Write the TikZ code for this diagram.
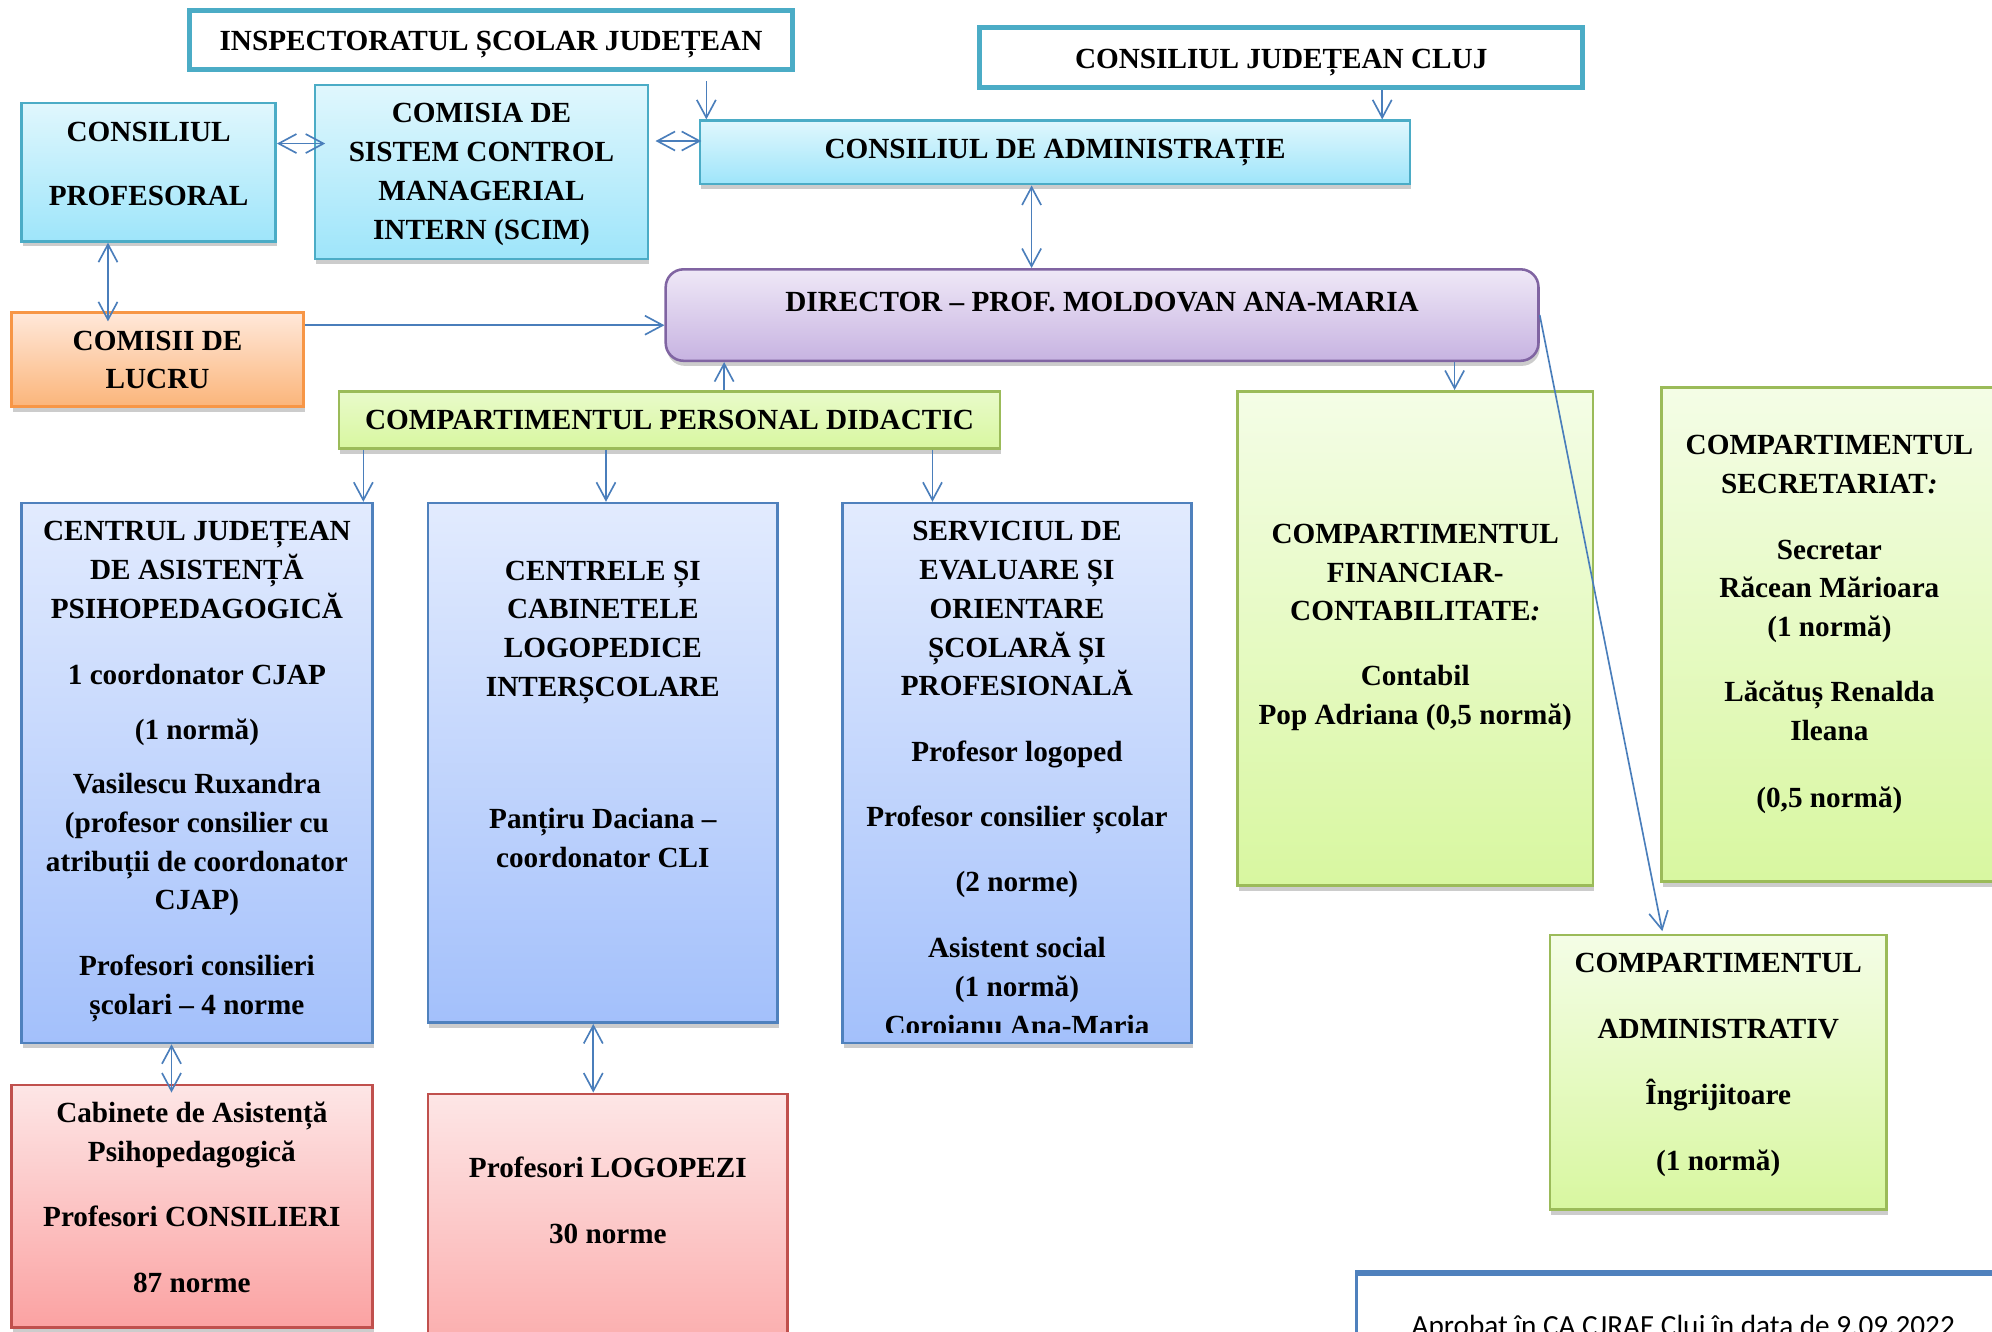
\documentclass[tikz,border=0pt]{standalone}
\usepackage{fontspec}
\setmainfont{Liberation Serif}
\newfontfamily\aprobfont{Carlito}
\usepackage{tikz}
\usetikzlibrary{arrows.meta,shadows}

\definecolor{tealline}{HTML}{4BACC6}
\definecolor{cyantop}{HTML}{E0F7FD}
\definecolor{cyanbot}{HTML}{9EE5FA}
\definecolor{purpline}{HTML}{8064A2}
\definecolor{purptop}{HTML}{EFE8F7}
\definecolor{purpbot}{HTML}{C7B3E1}
\definecolor{orline}{HTML}{F79646}
\definecolor{ortop}{HTML}{FFE8DA}
\definecolor{orbot}{HTML}{FBB57A}
\definecolor{grline}{HTML}{9BBB59}
\definecolor{grtop}{HTML}{F4FDE6}
\definecolor{grbot}{HTML}{D8F7A0}
\definecolor{blline}{HTML}{4F81BD}
\definecolor{bltop}{HTML}{E2EBFE}
\definecolor{blbot}{HTML}{A3C0FB}
\definecolor{rdline}{HTML}{C0504D}
\definecolor{rdtop}{HTML}{FDE6E6}
\definecolor{rdbot}{HTML}{FBA2A2}
\definecolor{arrowblue}{HTML}{4A7EBB}

\newcommand{\fl}{\rule{0pt}{21pt}}

\begin{document}
\begin{tikzpicture}[x=1pt, y=-1pt,
    >={Straight Barb[length=14pt,width=15pt]},
    arr/.style={->, draw=arrowblue, line width=1.3pt},
    arrb/.style={<->, draw=arrowblue, line width=1.3pt},
    shad/.style={drop shadow={opacity=0.4, shadow xshift=1pt, shadow yshift=-4pt}},
    topbox/.style={draw=tealline, line width=4pt, fill=white},
    cyanbox/.style={shad, draw=tealline, line width=2pt, top color=cyantop, bottom color=cyanbot, font=\bfseries\fontsize{23}{30.5}\selectfont},
    purpbox/.style={shad, draw=purpline, line width=2pt, top color=purptop, bottom color=purpbot, rounded corners=14pt},
    orbox/.style={shad, draw=orline, line width=2pt, top color=ortop, bottom color=orbot},
    grbox/.style={shad, draw=grline, line width=2pt, top color=grtop, bottom color=grbot},
    blbox/.style={shad, draw=blline, line width=2pt, top color=bltop, bottom color=blbot},
    rdbox/.style={shad, draw=rdline, line width=2pt, top color=rdtop, bottom color=rdbot},
    txt/.style={anchor=north, align=center, inner sep=0pt, font=\bfseries\fontsize{23}{30.5}\selectfont}]

\useasboundingbox (0,0) rectangle (1568,1048);
\fill[white] (0,0) rectangle (1568,1048);

% top level
\node[topbox, minimum width=475pt, minimum height=47pt] (isj) at (386.5,31.5) {};
\node[txt] (isjt) at (386.5,18.5) {\fl INSPECTORATUL ȘCOLAR JUDEȚEAN};
\node[topbox, minimum width=475pt, minimum height=47pt] (cjc) at (1008.5,45.5) {};
\node[txt] (cjct) at (1008.5,32.5) {\fl CONSILIUL JUDEȚEAN CLUJ};

\node[cyanbox, minimum width=200pt, minimum height=109pt] (cp) at (117,135.5) {};
\node[txt] (cpt) at (117,90.5) {\fl CONSILIUL\\[19.5pt]PROFESORAL};
\node[cyanbox, minimum width=262pt, minimum height=137pt] (scim) at (379,135.5) {};
\node[txt] (scimt) at (379,75.5) {\fl COMISIA DE\\SISTEM CONTROL\\MANAGERIAL\\INTERN (SCIM)};
\node[cyanbox, minimum width=559pt, minimum height=50pt] (ca) at (830.5,120) {CONSILIUL DE ADMINISTRAȚIE};

\node[purpbox, minimum width=687pt, minimum height=72pt] (dir) at (867.5,248) {};
\node[txt] (dirt) at (867.5,224) {\fl DIRECTOR – PROF. MOLDOVAN ANA-MARIA};
\node[orbox, minimum width=230pt, minimum height=74pt] (com) at (124,283) {};
\node[txt] (comt) at (124,254.5) {\fl COMISII DE\\LUCRU};
\node[grbox, minimum width=520pt, minimum height=45pt, top color=grtop!60!grbot, font=\bfseries\fontsize{23}{30.5}\selectfont] (pd) at (527,330.5) {COMPARTIMENTUL PERSONAL DIDACTIC};

% didactic
\node[blbox, minimum width=276pt, minimum height=425pt] (cjap) at (155,608.5) {};
\node[txt] (cjapt) at (155,404.5) {\fl CENTRUL JUDEȚEAN\\DE ASISTENȚĂ\\PSIHOPEDAGOGICĂ\\[21.5pt]1 coordonator CJAP\\[12.5pt](1 normă)\\[12.5pt]Vasilescu Ruxandra\\(profesor consilier cu\\atribuții de coordonator\\CJAP)\\[21.5pt]Profesori consilieri\\școlari – 4 norme};
\node[blbox, minimum width=275pt, minimum height=409pt] (cent) at (474.5,600.5) {};
\node[txt] (centt) at (474.5,435.5) {\fl CENTRELE ȘI\\CABINETELE\\LOGOPEDICE\\INTERȘCOLARE\\[73.5pt]Panțiru Daciana –\\coordonator CLI};
\node[blbox, minimum width=275pt, minimum height=425pt] (serv) at (800.5,608.5) {};
\begin{scope}
\clip (663,396) rectangle (938,813);
\node[txt] (servt) at (800.5,404.5) {\fl SERVICIUL DE\\EVALUARE ȘI\\ORIENTARE\\ȘCOLARĂ ȘI\\PROFESIONALĂ\\[21.5pt]Profesor logoped\\[20.5pt]Profesor consilier școlar\\[20.5pt](2 norme)\\[21.5pt]Asistent social\\(1 normă)\\Coroianu Ana-Maria};
\end{scope}

\node[rdbox, minimum width=284pt, minimum height=191pt] (cab) at (151,949.5) {};
\node[txt] (cabt) at (151,862.5) {\fl Cabinete de Asistență\\Psihopedagogică\\[20.5pt]Profesori CONSILIERI\\[21.5pt]87 norme};
\node[rdbox, minimum width=283pt, minimum height=238pt] (logo) at (478.5,980) {};
\node[txt] (logot) at (478.5,905.5) {\fl Profesori LOGOPEZI\\[21.5pt]30 norme};

% auxiliar
\node[grbox, minimum width=280pt, minimum height=389pt] (fin) at (1114,502.5) {};
\node[txt] (fint) at (1114,406.5) {\fl COMPARTIMENTUL\\FINANCIAR-\\CONTABILITATE\textit{:}\\[20.5pt]Contabil\\Pop Adriana (0,5 normă)};
\node[grbox, minimum width=264pt, minimum height=389pt] (sec) at (1440,499.5) {};
\node[txt] (sect) at (1440,336.5) {\fl COMPARTIMENTUL\\SECRETARIAT\textit{:}\\[21.5pt]Secretar\\Răcean Mărioara\\(1 normă)\\[20.5pt]Lăcătuș Renalda\\Ileana\\[22.5pt](0,5 normă)};
\node[grbox, minimum width=265pt, minimum height=216pt] (adm) at (1352.5,844) {};
\node[txt] (admt) at (1352.5,744.5) {\fl COMPARTIMENTUL\\[21pt]ADMINISTRATIV\\[21.5pt]Îngrijitoare\\[21.5pt](1 normă)};

% aprobare
\node[draw=blline, line width=2.5pt, fill=white, minimum width=512pt, minimum height=120pt] (apr) at (1324,1063) {};
\draw[blline, line width=4.5pt] (apr.north west) -- (apr.north east);
\node[anchor=base, inner sep=0pt, font=\aprobfont\fontsize{23}{27}\selectfont] (aprt) at (1325,1051) {Aprobat în CA CJRAE Cluj în data de 9.09.2022};

% legaturi
\coordinate (k1) at (556,0);
\draw[arr, shorten <=7pt] (isj.south -| k1) -- (ca.north -| k1);
\coordinate (k2) at (1088,0);
\draw[arr] (cjc.south -| k2) -- (ca.north -| k2);
\coordinate (k3) at (0,111);
\draw[arrb, shorten <=5pt, shorten >=-2pt] (scim.east |- k3) -- (ca.west |- k3);
\coordinate (k4) at (0,113);
\draw[arrb, shorten >=-9pt] (cp.east |- k4) -- (scim.west |- k4);
\coordinate (k5) at (812,0);
\draw[arrb] (ca.south -| k5) -- (dir.north -| k5);
\coordinate (k6) at (85,0);
\draw[arrb, shorten >=-8pt] (cp.south -| k6) -- (com.north -| k6);
\coordinate (k7) at (0,256);
\draw[arr] (com.east |- k7) -- (dir.west |- k7);
\coordinate (k8) at (570,0);
\draw[arr] (pd.north -| k8) -- (dir.south -| k8);
\coordinate (k9) at (1145,0);
\draw[arr] (dir.south -| k9) -- (fin.north -| k9);
\draw[arr] (dir.east) -- ([xshift=-44pt, yshift=2pt]adm.north);
\foreach \xx/\nn in {286/cjap, 477/cent, 734/serv}{
  \coordinate (kx) at (\xx,0);
  \draw[arr] (pd.south -| kx) -- (\nn.north -| kx);
}
\coordinate (k10) at (135,0);
\draw[arrb, shorten >=-7pt] (cjap.south -| k10) -- (cab.north -| k10);
\coordinate (k11) at (467,0);
\draw[arrb] (cent.south -| k11) -- (logo.north -| k11);

\end{tikzpicture}
\end{document}
